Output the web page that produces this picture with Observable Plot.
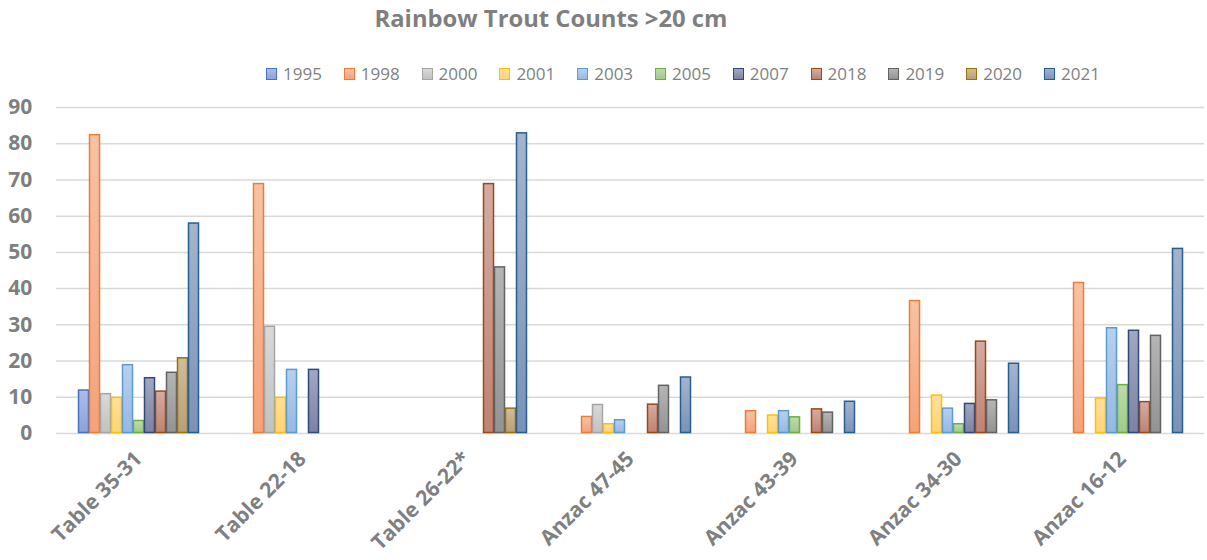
<!DOCTYPE html>
<html>
<head>
<meta charset="utf-8">
<script src="https://cdn.jsdelivr.net/npm/d3@7"></script>
<script src="https://cdn.jsdelivr.net/npm/@observablehq/plot@0.6"></script>
<style>
  html, body { margin: 0; padding: 0; background: #fff; }
  body { width: 1207px; height: 560px; overflow: hidden; font-family: "Open Sans", sans-serif; }
  #header { position: relative; width: 1207px; height: 90px; }
  #title { position: absolute; left: 0; width: 1102px; top: 2px; text-align: center; font-size: 23.8px; font-weight: bold; color: #7f7f7f; }
  #legend { position: absolute; left: 266px; top: 62px; display: flex; }
  .item { width: 77.8px; display: flex; align-items: center; font-size: 17px; color: #7f7f7f; }
  .sw { width: 9px; height: 10px; border: 1.5px solid; margin-right: 6px; }
</style>
</head>
<body>
<div id="header"><div id="title">Rainbow Trout Counts &gt;20 cm</div><div id="legend"></div></div>
<div id="chart"></div>
<script>
const sites = ["Table 35-31", "Table 22-18", "Table 26-22*", "Anzac 47-45", "Anzac 43-39", "Anzac 34-30", "Anzac 16-12"];
const years = ["1995", "1998", "2000", "2001", "2003", "2005", "2007", "2018", "2019", "2020", "2021"];
const y1995 = [12, null, null, null, null, null, null];
const y1998 = [82.5, 69, null, 4.7, 6.3, 36.7, 41.7];
const y2000 = [11, 29.6, null, 8, null, null, null];
const y2001 = [10, 10, null, 2.7, 5.1, 10.6, 9.8];
const y2003 = [19, 17.7, null, 3.8, 6.3, 7, 29.2];
const y2005 = [3.6, null, null, null, 4.6, 2.7, 13.5];
const y2007 = [15.4, 17.7, null, null, null, 8.3, 28.5];
const y2018 = [11.7, null, 69, 8.1, 6.8, 25.5, 8.8];
const y2019 = [16.9, null, 46, 13.3, 5.9, 9.3, 27.1];
const y2020 = [20.9, null, 7, null, null, null, null];
const y2021 = [58.1, null, 83, 15.6, 8.9, 19.4, 51.1];
const yTicks = [0, 10, 20, 30, 40, 50, 60, 70, 80, 90];

// colours: [gradient top, gradient bottom, outline]
const colors = {
  "1995": ["#aebce6", "#8ea2da", "#4472c4"],
  "1998": ["#f8c2a6", "#f4a27a", "#ed7d31"],
  "2000": ["#d9d9d9", "#c2c2c2", "#a5a5a5"],
  "2001": ["#ffe09a", "#ffd47a", "#ffc000"],
  "2003": ["#b9d0ec", "#95b9e3", "#5b9bd5"],
  "2005": ["#bddcab", "#9fcb88", "#70ad47"],
  "2007": ["#a2a8c0", "#7c83a2", "#2e4a7d"],
  "2018": ["#d4aca3", "#be8373", "#9e480e"],
  "2019": ["#b5b5b5", "#939393", "#636363"],
  "2020": ["#d0bc9b", "#bb9e78", "#997300"],
  "2021": ["#a5b4cd", "#7b92b6", "#255e91"]
};

const series = {"1995": y1995, "1998": y1998, "2000": y2000, "2001": y2001, "2003": y2003, "2005": y2005,
  "2007": y2007, "2018": y2018, "2019": y2019, "2020": y2020, "2021": y2021};

const rows = [];
for (const yr of years) {
  series[yr].forEach((v, i) => { if (v != null) rows.push({site: sites[i], year: yr, value: v}); });
}

// legend
const legend = document.getElementById("legend");
for (const yr of years) {
  const it = document.createElement("div");
  it.className = "item";
  const sw = document.createElement("div");
  sw.className = "sw";
  sw.style.borderColor = colors[yr][2];
  sw.style.background = `linear-gradient(${colors[yr][0]}, ${colors[yr][1]})`;
  it.appendChild(sw);
  it.appendChild(document.createTextNode(yr));
  legend.appendChild(it);
}

const defs = () => {
  const d = d3.create("svg:defs");
  for (const yr of years) {
    const g = d.append("linearGradient").attr("id", "g" + yr).attr("x1", 0).attr("y1", 0).attr("x2", 0).attr("y2", 1);
    g.append("stop").attr("offset", "0%").attr("stop-color", colors[yr][0]);
    g.append("stop").attr("offset", "100%").attr("stop-color", colors[yr][1]);
  }
  return d.node();
};

const fxPadInner = 0.2575, fxPadOuter = 0.129;
const W = 1207, mL = 55, mR = 2;
const step = (W - mL - mR) / (sites.length - fxPadInner + 2 * fxPadOuter);
const ext = -step * fxPadInner / 2; // extend gridlines across the gap between groups

const chart = Plot.plot({
  width: W,
  height: 470,
  marginTop: 17,
  marginBottom: 127,
  marginLeft: mL,
  marginRight: mR,
  style: {fontFamily: "Open Sans, sans-serif", background: "#fff"},
  fx: {domain: sites, paddingInner: fxPadInner, paddingOuter: fxPadOuter, label: null},
  x: {domain: years, padding: 0, axis: null},
  y: {domain: [0, 90], axis: null},
  color: {type: "identity"},
  marks: [
    defs,
    Plot.ruleY(yTicks, {stroke: "#d9d9d9", strokeWidth: 1.5, insetLeft: ext, insetRight: ext}),
    Plot.axisY(yTicks, {anchor: "left", tickSize: 0, tickPadding: -ext + 24, fontSize: 21, fontWeight: "bold", fill: "#7f7f7f", label: null}),
    Plot.barY(rows, {
      fx: "site", x: "year", y: "value",
      fill: d => `url(#g${d.year})`,
      stroke: d => colors[d.year][2],
      strokeWidth: 1.5,
      inset: 0.5
    }),
    Plot.axisFx({anchor: "bottom", tickRotate: -45, tickSize: 0, tickPadding: 22, fontSize: 21, fontWeight: "bold", fill: "#7f7f7f", label: null})
  ]
});
document.getElementById("chart").appendChild(chart);
</script>
</body>
</html>
